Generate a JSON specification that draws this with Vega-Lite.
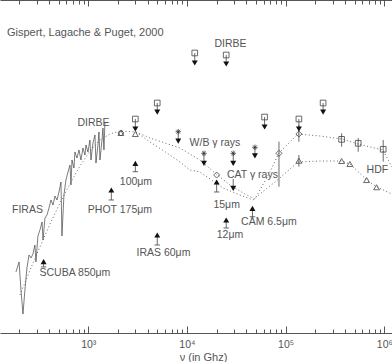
{
  "$schema": "https://vega.github.io/schema/vega-lite/v6.json",
  "width": 392,
  "height": 333,
  "autosize": {"type": "none"},
  "padding": {"left": 0, "top": 0, "right": 0, "bottom": 29},
  "background": "white",
  "config": {"view": {"stroke": null}, "font": "Liberation Sans"},
  "datasets": {
    "firas": [
      {"nu": 185, "S": 0.540}, {"nu": 199, "S": 0.713}, {"nu": 208, "S": 0.328}, {"nu": 218, "S": 0.169},
      {"nu": 228, "S": 0.328}, {"nu": 239, "S": 0.604}, {"nu": 251, "S": 0.865}, {"nu": 263, "S": 0.796},
      {"nu": 275, "S": 0.889}, {"nu": 288, "S": 1.14}, {"nu": 295, "S": 0.713}, {"nu": 309, "S": 1.463},
      {"nu": 324, "S": 1.727}, {"nu": 340, "S": 2.154}, {"nu": 348, "S": 1.31}, {"nu": 364, "S": 2.406},
      {"nu": 382, "S": 2.615}, {"nu": 400, "S": 3.174}, {"nu": 419, "S": 3.96}, {"nu": 439, "S": 3.447},
      {"nu": 460, "S": 4.42}, {"nu": 482, "S": 3.96}, {"nu": 505, "S": 4.94}, {"nu": 529, "S": 6.51},
      {"nu": 541, "S": 1.463}, {"nu": 567, "S": 4.55}, {"nu": 594, "S": 6.88}, {"nu": 623, "S": 8.59},
      {"nu": 653, "S": 10.4}, {"nu": 668, "S": 6.0}, {"nu": 684, "S": 11.97}, {"nu": 716, "S": 9.59},
      {"nu": 733, "S": 14.94}, {"nu": 768, "S": 12.65}, {"nu": 805, "S": 15.79}, {"nu": 843, "S": 11.97},
      {"nu": 884, "S": 16.68}, {"nu": 926, "S": 13.75}, {"nu": 948, "S": 18.13}, {"nu": 993, "S": 14.94},
      {"nu": 1040, "S": 20.8}, {"nu": 1065, "S": 11.97}, {"nu": 1116, "S": 19.15}, {"nu": 1169, "S": 23.9},
      {"nu": 1197, "S": 11.0}, {"nu": 1254, "S": 18.13}, {"nu": 1284, "S": 25.97}, {"nu": 1314, "S": 11.97},
      {"nu": 1377, "S": 20.8}, {"nu": 1409, "S": 29.0}, {"nu": 1442, "S": 15.79}, {"nu": 1476, "S": 34.2}
    ],
    "model": [
      {"curve": "a", "nu": 203, "S": 0.286}, {"curve": "a", "nu": 257, "S": 0.571}, {"curve": "a", "nu": 324, "S": 1.079},
      {"curve": "a", "nu": 409, "S": 2.039}, {"curve": "a", "nu": 517, "S": 3.644}, {"curve": "a", "nu": 653, "S": 6.164},
      {"curve": "a", "nu": 824, "S": 10.14}, {"curve": "a", "nu": 1040, "S": 15.36}, {"curve": "a", "nu": 1314, "S": 20.8},
      {"curve": "a", "nu": 1659, "S": 24.57}, {"curve": "a", "nu": 2095, "S": 26.7}, {"curve": "a", "nu": 3043, "S": 25.97},
      {"curve": "a", "nu": 4219, "S": 21.99}, {"curve": "a", "nu": 5987, "S": 19.15}, {"curve": "a", "nu": 8494, "S": 16.68},
      {"curve": "a", "nu": 10725, "S": 14.13}, {"curve": "a", "nu": 13542, "S": 11.97}, {"curve": "a", "nu": 19217, "S": 8.35},
      {"curve": "a", "nu": 27280, "S": 6.0}, {"curve": "a", "nu": 38690, "S": 4.67}, {"curve": "a", "nu": 48870, "S": 4.07},
      {"curve": "a", "nu": 69330, "S": 8.59}, {"curve": "a", "nu": 85530, "S": 14.53}, {"curve": "a", "nu": 133240, "S": 24.57},
      {"curve": "a", "nu": 222600, "S": 23.25}, {"curve": "a", "nu": 371900, "S": 21.39}, {"curve": "a", "nu": 540000, "S": 18.64},
      {"curve": "a", "nu": 967800, "S": 15.79}, {"curve": "a", "nu": 1194000, "S": 9.86},
      {"curve": "b", "nu": 3043, "S": 25.97}, {"curve": "b", "nu": 4219, "S": 19.7}, {"curve": "b", "nu": 6271, "S": 14.53},
      {"curve": "b", "nu": 8494, "S": 11.32}, {"curve": "b", "nu": 10725, "S": 9.08}, {"curve": "b", "nu": 13542, "S": 8.59},
      {"curve": "b", "nu": 23166, "S": 5.52}, {"curve": "b", "nu": 34435, "S": 4.55}, {"curve": "b", "nu": 46640, "S": 3.96},
      {"curve": "b", "nu": 61710, "S": 5.22}, {"curve": "b", "nu": 87540, "S": 7.28}, {"curve": "b", "nu": 133240, "S": 11.32},
      {"curve": "b", "nu": 222600, "S": 11.64}, {"curve": "b", "nu": 371900, "S": 11.64}, {"curve": "b", "nu": 448200, "S": 10.72},
      {"curve": "b", "nu": 666300, "S": 6.88}, {"curve": "b", "nu": 841400, "S": 5.67}, {"curve": "b", "nu": 1194000, "S": 4.67}
    ],
    "upper": [
      {"kind": "dirbe", "nu": 3000, "S": 37.2, "S2": 28.2},
      {"kind": "dirbe", "nu": 5000, "S": 57.9, "S2": 45.1},
      {"kind": "dirbe", "nu": 12000, "S": 230.9, "S2": 175.1},
      {"kind": "dirbe", "nu": 25000, "S": 218.4, "S2": 170.3},
      {"kind": "dirbe", "nu": 61200, "S": 39.3, "S2": 29.8},
      {"kind": "dirbe", "nu": 136300, "S": 37.2, "S2": 28.2},
      {"kind": "dirbe", "nu": 239800, "S": 57.9, "S2": 45.1},
      {"kind": "gamma", "nu": 8164, "S": 26.2, "S2": 20.2},
      {"kind": "gamma", "nu": 14870, "S": 14.4, "S2": 10.9},
      {"kind": "gamma", "nu": 29450, "S": 14.4, "S2": 10.9},
      {"kind": "gamma", "nu": 48870, "S": 17.0, "S2": 13.4},
      {"kind": "cat", "nu": 29450, "S": 7.08, "S2": 5.47}
    ],
    "lower": [
      {"nu": 3000, "S": 10.9, "S2": 8.66},
      {"nu": 1713, "S": 5.22, "S2": 3.96},
      {"nu": 20000, "S": 6.51, "S2": 4.94},
      {"nu": 46120, "S": 3.147, "S2": 2.495},
      {"nu": 25000, "S": 2.277, "S2": 1.825},
      {"nu": 5000, "S": 1.504, "S2": 1.14},
      {"nu": 352.7, "S": 0.719, "S2": 0.621}
    ],
    "det": [
      {"sym": "diamond", "nu": 20000, "S": 7.9},
      {"sym": "diamond", "nu": 85650, "S": 14.4, "lo": 5.72, "hi": 19.86},
      {"sym": "diamond", "nu": 136300, "S": 24.57, "lo": 19.86, "hi": 31.5},
      {"sym": "diamond", "nu": 2141, "S": 25.26},
      {"sym": "square", "nu": 369400, "S": 21.2, "lo": 17.3, "hi": 25.05},
      {"sym": "square", "nu": 543900, "S": 19.0, "lo": 15.06, "hi": 21.99},
      {"sym": "square", "nu": 974800, "S": 16.1, "lo": 11.42, "hi": 20.8},
      {"sym": "triangle", "nu": 2141, "S": 25.26},
      {"sym": "triangle", "nu": 3000, "S": 24.57},
      {"sym": "triangle", "nu": 136300, "S": 11.74, "lo": 9.95, "hi": 13.75},
      {"sym": "triangle", "nu": 369400, "S": 11.64},
      {"sym": "triangle", "nu": 448200, "S": 10.72},
      {"sym": "triangle", "nu": 661700, "S": 6.88},
      {"sym": "triangle", "nu": 835700, "S": 5.63}
    ],
    "labels": [
      {"nu": 27590, "S": 296, "text": "DIRBE"},
      {"nu": 1129, "S": 33.3, "text": "DIRBE"},
      {"nu": 242, "S": 3.0, "text": "FIRAS"},
      {"nu": 19217, "S": 19.15, "text": "W/B γ rays"},
      {"nu": 46070, "S": 7.9, "text": "CAT γ rays"},
      {"nu": 25250, "S": 3.447, "text": "15μm"},
      {"nu": 67720, "S": 2.154, "text": "CAM 6.5μm"},
      {"nu": 27280, "S": 1.504, "text": "12μm"},
      {"nu": 851300, "S": 9.2, "text": "HDF"},
      {"nu": 3043, "S": 6.51, "text": "100μm"},
      {"nu": 2095, "S": 3.0, "text": "PHOT 175μm"},
      {"nu": 5780, "S": 0.914, "text": "IRAS 60μm"},
      {"nu": 733, "S": 0.526, "text": "SCUBA 850μm"}
    ],
    "title": [
      {"nu": 150, "S": 401.6, "text": "Gispert, Lagache & Puget, 2000"}
    ]
  },
  "resolve": {"axis": {"x": "independent"}},
  "layer": [
    {
      "data": {"name": "firas"},
      "mark": {"type": "line", "color": "#444", "strokeWidth": 0.7},
      "encoding": {
        "x": {"field": "nu", "type": "quantitative", "scale": {"type": "log", "domain": [127.5, 1197000], "nice": false},
          "axis": {
            "orient": "bottom",
            "values": [200, 300, 400, 500, 600, 700, 800, 900, 1000, 2000, 3000, 4000, 5000, 6000, 7000, 8000, 9000, 10000, 20000, 30000, 40000, 50000, 60000, 70000, 80000, 90000, 100000, 200000, 300000, 400000, 500000, 600000, 700000, 800000, 900000, 1000000],
            "labelExpr": "datum.value == 1000 ? '10³' : datum.value == 10000 ? '10⁴' : datum.value == 100000 ? '10⁵' : datum.value == 1000000 ? '10⁶' : ''",
            "tickSize": {"condition": {"test": "indexof([1000, 10000, 100000, 1000000], datum.value) >= 0", "value": -7}, "value": -4},
            "tickColor": "#555", "domainColor": "#555", "tickWidth": 1, "domainWidth": 1,
            "labelColor": "#555", "labelFont": "Liberation Sans", "labelFontSize": 10.5, "labelPadding": 13,
            "labelFlush": false, "labelOverlap": false, "grid": false,
            "title": "ν (in Ghz)", "titleFont": "Liberation Sans", "titleFontSize": 11, "titleFontWeight": "normal",
            "titleColor": "#555", "titleX": 203, "titleY": 27, "titleBaseline": "alphabetic"
          }},
        "y": {"field": "S", "type": "quantitative", "scale": {"type": "log", "domain": [0.1, 1000], "nice": false}, "axis": null}
      }
    },
    {
      "data": {"name": "model"},
      "mark": {"type": "line", "color": "#666", "strokeWidth": 1, "strokeDash": [1, 2.5]},
      "encoding": {
        "x": {"field": "nu", "type": "quantitative", "scale": {"type": "log", "domain": [127.5, 1197000], "nice": false},
          "axis": {
            "orient": "top",
            "values": [200, 300, 400, 500, 600, 700, 800, 900, 1000, 2000, 3000, 4000, 5000, 6000, 7000, 8000, 9000, 10000, 20000, 30000, 40000, 50000, 60000, 70000, 80000, 90000, 100000, 200000, 300000, 400000, 500000, 600000, 700000, 800000, 900000, 1000000],
            "labels": false, "title": null, "grid": false,
            "tickSize": {"condition": {"test": "indexof([1000, 10000, 100000, 1000000], datum.value) >= 0", "value": -6}, "value": -4},
            "tickColor": "#555", "domainColor": "#555", "tickWidth": 1, "domainWidth": 1
          }},
        "y": {"field": "S", "type": "quantitative", "scale": {"type": "log", "domain": [0.1, 1000], "nice": false}, "axis": null},
        "detail": {"field": "curve"}
      }
    },
    {
      "data": {"name": "upper"},
      "mark": {"type": "rule", "color": "#444", "strokeWidth": 0.8},
      "encoding": {
        "x": {"field": "nu", "type": "quantitative", "scale": {"type": "log", "domain": [127.5, 1197000], "nice": false}, "axis": null},
        "y": {"field": "S", "type": "quantitative", "scale": {"type": "log", "domain": [0.1, 1000], "nice": false}, "axis": null},
        "y2": {"field": "S2"}
      }
    },
    {
      "data": {"name": "lower"},
      "mark": {"type": "rule", "color": "#444", "strokeWidth": 0.8},
      "encoding": {
        "x": {"field": "nu", "type": "quantitative", "scale": {"type": "log", "domain": [127.5, 1197000], "nice": false}, "axis": null},
        "y": {"field": "S", "type": "quantitative", "scale": {"type": "log", "domain": [0.1, 1000], "nice": false}, "axis": null},
        "y2": {"field": "S2"}
      }
    },
    {
      "data": {"name": "det"},
      "transform": [{"filter": "isValid(datum.lo)"}],
      "mark": {"type": "rule", "color": "#444", "strokeWidth": 0.8},
      "encoding": {
        "x": {"field": "nu", "type": "quantitative", "scale": {"type": "log", "domain": [127.5, 1197000], "nice": false}, "axis": null},
        "y": {"field": "lo", "type": "quantitative", "scale": {"type": "log", "domain": [0.1, 1000], "nice": false}, "axis": null},
        "y2": {"field": "hi"}
      }
    },
    {
      "data": {"name": "upper"},
      "transform": [{"filter": "datum.kind == 'dirbe'"}],
      "mark": {"type": "point", "shape": "square", "size": 32, "filled": false, "color": "#444", "strokeWidth": 0.8, "opacity": 1},
      "encoding": {
        "x": {"field": "nu", "type": "quantitative", "scale": {"type": "log", "domain": [127.5, 1197000], "nice": false}, "axis": null},
        "y": {"field": "S", "type": "quantitative", "scale": {"type": "log", "domain": [0.1, 1000], "nice": false}, "axis": null}
      }
    },
    {
      "data": {"name": "upper"},
      "transform": [{"filter": "datum.kind == 'gamma'"}],
      "mark": {"type": "point", "shape": "M-1,0L1,0M0,-1L0,1M-0.7,-0.7L0.7,0.7M-0.7,0.7L0.7,-0.7", "size": 30, "filled": false, "color": "#333", "strokeWidth": 0.8, "opacity": 1},
      "encoding": {
        "x": {"field": "nu", "type": "quantitative", "scale": {"type": "log", "domain": [127.5, 1197000], "nice": false}, "axis": null},
        "y": {"field": "S", "type": "quantitative", "scale": {"type": "log", "domain": [0.1, 1000], "nice": false}, "axis": null}
      }
    },
    {
      "data": {"name": "upper"},
      "mark": {"type": "point", "shape": "triangle-down", "size": 36, "filled": true, "color": "#111", "opacity": 1},
      "encoding": {
        "x": {"field": "nu", "type": "quantitative", "scale": {"type": "log", "domain": [127.5, 1197000], "nice": false}, "axis": null},
        "y": {"field": "S2", "type": "quantitative", "scale": {"type": "log", "domain": [0.1, 1000], "nice": false}, "axis": null}
      }
    },
    {
      "data": {"name": "lower"},
      "mark": {"type": "point", "shape": "triangle-up", "size": 36, "filled": true, "color": "#111", "opacity": 1},
      "encoding": {
        "x": {"field": "nu", "type": "quantitative", "scale": {"type": "log", "domain": [127.5, 1197000], "nice": false}, "axis": null},
        "y": {"field": "S", "type": "quantitative", "scale": {"type": "log", "domain": [0.1, 1000], "nice": false}, "axis": null}
      }
    },
    {
      "data": {"name": "lower"},
      "mark": {"type": "point", "shape": "M-1,0L1,0", "size": 30, "filled": false, "color": "#444", "strokeWidth": 0.8, "opacity": 1},
      "encoding": {
        "x": {"field": "nu", "type": "quantitative", "scale": {"type": "log", "domain": [127.5, 1197000], "nice": false}, "axis": null},
        "y": {"field": "S2", "type": "quantitative", "scale": {"type": "log", "domain": [0.1, 1000], "nice": false}, "axis": null}
      }
    },
    {
      "data": {"name": "det"},
      "transform": [{"filter": "datum.sym == 'diamond'"}],
      "mark": {"type": "point", "shape": "diamond", "size": 36, "filled": false, "color": "#444", "strokeWidth": 0.8, "opacity": 1},
      "encoding": {
        "x": {"field": "nu", "type": "quantitative", "scale": {"type": "log", "domain": [127.5, 1197000], "nice": false}, "axis": null},
        "y": {"field": "S", "type": "quantitative", "scale": {"type": "log", "domain": [0.1, 1000], "nice": false}, "axis": null}
      }
    },
    {
      "data": {"name": "det"},
      "transform": [{"filter": "datum.sym == 'square'"}],
      "mark": {"type": "point", "shape": "square", "size": 32, "filled": false, "color": "#444", "strokeWidth": 0.8, "opacity": 1},
      "encoding": {
        "x": {"field": "nu", "type": "quantitative", "scale": {"type": "log", "domain": [127.5, 1197000], "nice": false}, "axis": null},
        "y": {"field": "S", "type": "quantitative", "scale": {"type": "log", "domain": [0.1, 1000], "nice": false}, "axis": null}
      }
    },
    {
      "data": {"name": "det"},
      "transform": [{"filter": "datum.sym == 'triangle'"}],
      "mark": {"type": "point", "shape": "triangle-up", "size": 34, "filled": false, "color": "#444", "strokeWidth": 0.8, "opacity": 1},
      "encoding": {
        "x": {"field": "nu", "type": "quantitative", "scale": {"type": "log", "domain": [127.5, 1197000], "nice": false}, "axis": null},
        "y": {"field": "S", "type": "quantitative", "scale": {"type": "log", "domain": [0.1, 1000], "nice": false}, "axis": null}
      }
    },
    {
      "data": {"name": "labels"},
      "mark": {"type": "text", "font": "Liberation Sans", "fontSize": 10.5, "color": "#555", "align": "center", "baseline": "middle"},
      "encoding": {
        "x": {"field": "nu", "type": "quantitative", "scale": {"type": "log", "domain": [127.5, 1197000], "nice": false}, "axis": null},
        "y": {"field": "S", "type": "quantitative", "scale": {"type": "log", "domain": [0.1, 1000], "nice": false}, "axis": null},
        "text": {"field": "text"}
      }
    },
    {
      "data": {"name": "title"},
      "mark": {"type": "text", "font": "Liberation Sans", "fontSize": 11, "color": "#555", "align": "left", "baseline": "middle"},
      "encoding": {
        "x": {"field": "nu", "type": "quantitative", "scale": {"type": "log", "domain": [127.5, 1197000], "nice": false}, "axis": null},
        "y": {"field": "S", "type": "quantitative", "scale": {"type": "log", "domain": [0.1, 1000], "nice": false}, "axis": null},
        "text": {"field": "text"}
      }
    }
  ]
}
